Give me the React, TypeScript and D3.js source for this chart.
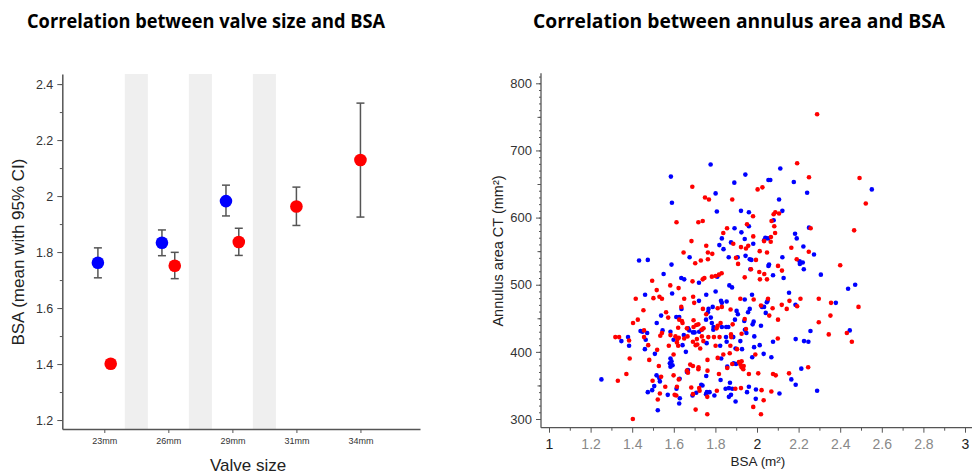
import React, { useEffect, useRef } from 'react';
import * as d3 from 'd3';

// left panel: BSA by valve size, mean with 95% CI
const valveSizes = ['23mm', '26mm', '29mm', '31mm', '34mm'];
const blueMean = [1.762, 1.833, 1.982, null, null];
const blueLow = [1.708, 1.787, 1.929, null, null];
const blueHigh = [1.815, 1.879, 2.039, null, null];
const redMean = [1.401, 1.751, 1.836, 1.963, 2.129];
const redLow = [null, 1.705, 1.788, 1.895, 1.925];
const redHigh = [null, 1.799, 1.885, 2.032, 2.332];
const bsaTicks = [1.2, 1.4, 1.6, 1.8, 2, 2.2, 2.4];

// right panel: annulus area vs BSA
const blueBSA = [1.777, 1.586, 2.112, 1.944, 2.055, 2.064, 2.177, 1.891, 2.552, 1.801, 2.241, 2.106, 1.591, 1.807, 1.923, 1.961, 2.122, 2.08, 1.892, 1.961, 2.25, 1.925, 2.183, 2.191, 1.831, 2.04, 2.053, 2.034, 1.941, 1.875, 1.819, 1.982, 2.223, 1.839, 2.122, 1.676, 1.864, 1.945, 1.907, 1.433, 1.475, 1.965, 1.973, 2.205, 2.22, 2.206, 1.589, 2.274, 2.055, 2.058, 1.968, 2.225, 1.551, 1.809, 2.307, 2.077, 2.128, 1.636, 1.65, 1.721, 1.867, 1.88, 2.438, 2.472, 1.801, 1.592, 1.462, 2.154, 1.756, 1.976, 1.941, 2.051, 1.721, 1.827, 1.831, 1.854, 2.047, 2.379, 2.024, 2.034, 2.185, 1.637, 1.767, 1.787, 1.902, 1.908, 1.965, 1.957, 2.042, 1.612, 1.539, 1.626, 1.764, 1.755, 1.778, 1.894, 1.939, 1.984, 1.979, 1.518, 1.783, 1.791, 2.019, 1.831, 1.852, 1.862, 1.44, 1.449, 1.546, 1.669, 1.674, 1.722, 1.734, 1.942, 1.79, 1.7, 1.692, 2.257, 2.446, 1.584, 1.38, 1.648, 1.851, 1.886, 1.949, 1.987, 2.186, 2.226, 2.247, 1.348, 1.472, 1.465, 1.92, 1.599, 2.077, 1.385, 1.642, 1.758, 1.823, 1.854, 2.013, 1.986, 1.897, 1.928, 1.461, 1.658, 1.509, 2.032, 1.828, 1.584, 2.069, 1.977, 1.589, 1.888, 1.899, 1.581, 1.594, 1.584, 1.857, 2.213, 1.668, 1.663, 1.517, 1.756, 1.53, 1.628, 1.825, 1.252, 2.165, 1.533, 1.87, 1.732, 1.506, 1.738, 1.961, 2.186, 1.849, 1.881, 1.865, 1.613, 2.289, 1.496, 1.475, 1.995, 1.759, 1.772, 1.708, 1.952, 2.108, 1.755, 1.571, 1.795, 1.865, 1.875, 1.69, 1.629, 1.994, 1.897, 1.626, 1.523];
const blueArea = [679, 661, 673, 664, 656, 656, 653, 652, 642, 636, 637, 627, 622, 609, 610, 608, 610, 596, 584, 587, 585, 578, 576, 569, 569, 570, 569, 566, 568, 563, 559, 561, 557, 553, 541, 541, 541, 543, 541, 536, 537, 538, 537, 535, 533, 531, 530, 545, 528, 530, 523, 523, 516, 512, 515, 514, 510, 510, 508, 503, 499, 496, 494, 500, 490, 487, 485, 488, 485, 485, 478, 476, 476, 476, 473, 475, 474, 473, 467, 467, 470, 464, 464, 467, 461, 456, 464, 459, 458, 452, 454, 452, 459, 448, 451, 448, 446, 445, 441, 443, 443, 437, 439, 437, 437, 437, 431, 430, 432, 435, 432, 430, 433, 433, 433, 429, 429, 431, 432, 430, 422, 425, 422, 422, 428, 423, 419, 416, 415, 416, 428, 418, 416, 418, 415, 409, 410, 413, 409, 415, 410, 407, 405, 404, 404, 400, 397, 397, 390, 390, 392, 392, 386, 383, 382, 383, 380, 378, 378, 375, 373, 370, 365, 364, 361, 360, 358, 359, 359, 356, 354, 351, 349, 350, 348, 351, 345, 345, 346, 345, 342, 343, 340, 344, 340, 340, 339, 340, 338, 337, 336, 335, 333, 336, 335, 331, 330, 326, 323, 313];
const redBSA = [2.289, 2.193, 2.25, 2.493, 1.689, 2.026, 2.003, 1.75, 1.769, 1.881, 2.523, 2.088, 2.106, 2.08, 1.981, 1.613, 1.718, 1.739, 2.07, 2.083, 1.856, 1.838, 1.952, 2.258, 2.467, 2.087, 1.685, 2.067, 2.066, 2.034, 1.982, 1.886, 1.923, 1.756, 2.165, 1.958, 1.947, 1.647, 1.764, 1.785, 2.249, 2.013, 2.048, 1.73, 1.764, 1.899, 1.995, 2.191, 1.703, 1.909, 2.101, 2.4, 1.971, 2.12, 2.011, 2.035, 1.83, 1.817, 1.801, 1.783, 1.941, 2.048, 2.014, 1.739, 1.747, 1.496, 1.69, 1.583, 1.623, 1.518, 1.531, 1.543, 1.502, 1.693, 1.65, 1.417, 1.984, 1.92, 2.053, 2.209, 2.297, 2.156, 1.698, 2.356, 2.119, 2.075, 2.019, 2.143, 2.193, 2.488, 1.636, 1.454, 1.74, 1.811, 1.831, 1.873, 2.059, 1.563, 1.573, 1.756, 2.353, 1.427, 1.626, 1.639, 1.941, 2.101, 1.695, 1.642, 1.404, 2.297, 1.825, 1.811, 1.708, 1.718, 1.883, 1.806, 1.743, 1.734, 1.695, 1.457, 1.621, 1.663, 1.947, 2.432, 2.345, 1.543, 1.535, 1.584, 1.319, 1.337, 1.457, 1.608, 1.618, 1.624, 1.65, 1.666, 1.711, 1.735, 1.766, 1.793, 1.82, 1.875, 1.876, 1.926, 2.1, 2.456, 1.385, 1.742, 1.692, 1.615, 1.621, 1.576, 1.477, 1.713, 1.705, 1.801, 1.872, 1.904, 1.52, 1.727, 1.869, 1.599, 1.838, 1.992, 1.388, 1.482, 1.811, 1.762, 1.913, 1.926, 1.881, 1.679, 1.692, 1.92, 1.936, 1.528, 1.719, 1.718, 1.857, 1.926, 1.934, 2.246, 1.762, 1.663, 1.668, 2.154, 1.372, 2.006, 1.817, 1.961, 2.077, 2.09, 1.539, 1.599, 1.624, 1.331, 1.498, 1.559, 1.923, 1.684, 1.615, 1.722, 1.896, 1.724, 2.022, 2.069, 1.807, 1.533, 1.604, 1.612, 1.692, 1.761, 1.523, 2.032, 1.982, 1.705, 1.761, 2.019, 1.403];
const redArea = [754, 681, 660, 659, 646, 645, 642, 630, 627, 627, 621, 608, 606, 605, 602, 593, 593, 595, 595, 587, 584, 577, 590, 584, 581, 577, 565, 571, 564, 565, 572, 561, 556, 558, 555, 558, 554, 548, 548, 546, 549, 550, 548, 536, 538, 540, 537, 538, 532, 531, 528, 529, 523, 521, 519, 516, 517, 515, 513, 512, 511, 508, 508, 508, 510, 506, 505, 499, 495, 492, 482, 479, 480, 482, 479, 479, 478, 479, 479, 479, 479, 476, 473, 473, 470, 465, 469, 464, 468, 467, 467, 462, 464, 465, 467, 463, 454, 459, 451, 456, 454, 448, 448, 446, 449, 448, 447, 443, 443, 444, 443, 439, 440, 441, 441, 435, 435, 433, 437, 432, 436, 435, 434, 428, 426, 428, 424, 425, 422, 422, 422, 423, 419, 421, 420, 423, 419, 423, 422, 422, 422, 426, 422, 427, 420, 415, 417, 416, 415, 414, 409, 409, 410, 411, 410, 409, 409, 404, 403, 405, 398, 396, 396, 396, 390, 388, 391, 388, 385, 386, 382, 381, 379, 381, 379, 379, 377, 374, 376, 377, 374, 377, 372, 372, 369, 368, 367, 368, 367, 367, 367, 365, 363, 365, 359, 357, 357, 348, 346, 347, 348, 346, 345, 342, 343, 341, 342, 338, 336, 335, 337, 333, 329, 328, 318, 314, 307, 307, 300];
const xTicks = [1, 1.2, 1.4, 1.6, 1.8, 2, 2.2, 2.4, 2.6, 2.8, 3];
const yTicks = [300, 400, 500, 600, 700, 800];

const BLUE = '#0000ff';
const RED = '#ff0000';
const AXIS = '#555';
const FONT = '"Liberation Sans", Arial, sans-serif';

const App: React.FC = () => {
    const ref = useRef<SVGSVGElement>(null);

    useEffect(() => {
        const svg = d3.select(ref.current);
        svg.selectAll('*').remove();

        // titles
        svg.append('text').attr('x', 206).attr('y', 28).attr('text-anchor', 'middle')
            .attr('font-family', '"Open Sans", sans-serif').attr('font-weight', 'bold').attr('font-size', 19)
            .attr('textLength', 358).attr('lengthAdjust', 'spacingAndGlyphs')
            .text('Correlation between valve size and BSA');
        svg.append('text').attr('x', 739).attr('y', 28).attr('text-anchor', 'middle')
            .attr('font-family', '"Open Sans", sans-serif').attr('font-weight', 'bold').attr('font-size', 19)
            .attr('textLength', 412).attr('lengthAdjust', 'spacingAndGlyphs')
            .text('Correlation between annulus area and BSA');

        // ---------- left panel ----------
        const xL = d3.scaleLinear().domain([-0.656, 4.93]).range([62.3, 420]);
        const yL = d3.scaleLinear().domain([1.168, 2.436]).range([429, 74]);
        const left = svg.append('g');

        // grey bands between sizes
        left.selectAll('rect.band').data([0, 1, 2]).enter().append('rect')
            .attr('x', d => xL(d + 0.5 - 0.18)).attr('width', xL(0.36) - xL(0))
            .attr('y', yL(2.436)).attr('height', yL(1.168) - yL(2.436))
            .attr('fill', '#efefef');

        const yAxisL = left.append('g').attr('transform', `translate(${xL(-0.656)},0)`)
            .call(d3.axisLeft(yL).tickValues(d3.range(1.2, 2.45, 0.1)).tickSize(2.5).tickFormat(() => ''));
        yAxisL.select('.domain').remove();
        const yAxisL2 = left.append('g').attr('transform', `translate(${xL(-0.656)},0)`)
            .call(d3.axisLeft(yL).tickValues(bsaTicks).tickSize(5).tickSizeOuter(0).tickPadding(4)
                .tickFormat(d => String(+(+d).toFixed(1))));
        yAxisL2.selectAll('text').attr('font-size', 12.5).attr('font-family', FONT).attr('fill', '#333');
        left.selectAll('.tick line').attr('stroke', AXIS);
        yAxisL2.select('.domain').attr('stroke', AXIS).attr('stroke-width', 1.5);

        const xAxisL = left.append('g').attr('transform', `translate(0,${yL(1.168)})`)
            .call(d3.axisBottom(xL).tickValues(d3.range(valveSizes.length)).tickSize(4).tickSizeOuter(0)
                .tickPadding(5).tickFormat((d) => valveSizes[+d]));
        xAxisL.selectAll('text').attr('font-size', 9).attr('font-family', FONT).attr('fill', '#333');
        xAxisL.selectAll('line').attr('stroke', AXIS);
        xAxisL.select('.domain').attr('stroke', AXIS).attr('stroke-width', 1.5);

        left.append('text').attr('transform', `translate(24,${yL(1.8)}) rotate(-90)`)
            .attr('text-anchor', 'middle').attr('font-family', FONT).attr('font-size', 17).attr('fill', '#222')
            .text('BSA (mean with 95% CI)');
        left.append('text').attr('x', 248).attr('y', 471).attr('text-anchor', 'middle')
            .attr('font-family', FONT).attr('font-size', 17).attr('fill', '#222').text('Valve size');

        const series = [
            { color: BLUE, mean: blueMean, low: blueLow, high: blueHigh, side: -1 },
            { color: RED, mean: redMean, low: redLow, high: redHigh, side: 1 },
        ];
        series.forEach(s => {
            s.mean.forEach((m, i) => {
                if (m == null) return;
                const both = blueMean[i] != null && redMean[i] != null;
                const cx = xL(i + (both ? s.side * 0.1 : 0));
                const lo = s.low[i];
                const hi = s.high[i];
                if (lo != null && hi != null) {
                    const g = left.append('g').attr('stroke', '#555').attr('stroke-width', 1.5);
                    g.append('line').attr('x1', cx).attr('x2', cx).attr('y1', yL(lo)).attr('y2', yL(hi));
                    g.append('line').attr('x1', cx - 4).attr('x2', cx + 4).attr('y1', yL(lo)).attr('y2', yL(lo));
                    g.append('line').attr('x1', cx - 4).attr('x2', cx + 4).attr('y1', yL(hi)).attr('y2', yL(hi));
                }
                left.append('circle').attr('cx', cx).attr('cy', yL(m)).attr('r', 6.3).attr('fill', s.color);
            });
        });

        // ---------- right panel ----------
        const xR = d3.scaleLinear().domain([1, 3]).range([549, 965]);
        const yR = d3.scaleLinear().domain([300, 800]).range([419, 83.3]);
        const right = svg.append('g');
        const x0 = xR.invert(541);
        const y0 = yR.invert(427.7);

        const yMinor = right.append('g').attr('transform', `translate(541,0)`)
            .call(d3.axisLeft(yR).tickValues(d3.range(300, 811, 10)).tickSize(2).tickFormat(() => ''));
        yMinor.select('.domain').remove();
        const yMid = right.append('g').attr('transform', `translate(541,0)`)
            .call(d3.axisLeft(yR).tickValues(d3.range(350, 800, 100)).tickSize(3.5).tickFormat(() => ''));
        yMid.select('.domain').remove();
        const yAxisR = right.append('g').attr('transform', `translate(541,0)`)
            .call(d3.axisLeft(yR).tickValues(yTicks).tickSize(5).tickSizeOuter(0).tickPadding(4));
        yAxisR.select('.domain').remove();
        yAxisR.selectAll('text').attr('font-size', 13).attr('font-family', FONT).attr('fill', '#333');

        const xMinor = right.append('g').attr('transform', `translate(0,427.7)`)
            .call(d3.axisBottom(xR).tickValues(d3.range(1.1, 3, 0.2)).tickSize(3).tickFormat(() => ''));
        xMinor.select('.domain').remove();
        const xAxisR = right.append('g').attr('transform', `translate(0,427.7)`)
            .call(d3.axisBottom(xR).tickValues(xTicks).tickSize(5).tickSizeOuter(0).tickPadding(6)
                .tickFormat(d => String(+(+d).toFixed(1))));
        xAxisR.select('.domain').remove();
        xAxisR.selectAll('text').attr('font-size', 14).attr('font-family', FONT)
            .attr('fill', (d: any) => (Number.isInteger(+(+d).toFixed(1)) ? '#222' : '#888'));
        right.selectAll('.tick line').attr('stroke', AXIS);

        right.append('line').attr('x1', 541).attr('x2', 541).attr('y1', yR(815)).attr('y2', yR(y0))
            .attr('stroke', AXIS).attr('stroke-width', 1.3);
        right.append('line').attr('x1', xR(x0)).attr('x2', 972).attr('y1', 427.7).attr('y2', 427.7)
            .attr('stroke', AXIS).attr('stroke-width', 1.3);

        right.append('text').attr('transform', `translate(503,251) rotate(-90)`)
            .attr('text-anchor', 'middle').attr('font-family', FONT).attr('font-size', 14.5).attr('fill', '#222')
            .text('Annulus area CT (mm²)');
        right.append('text').attr('x', 758).attr('y', 466).attr('text-anchor', 'middle')
            .attr('font-family', FONT).attr('font-size', 13.5).attr('fill', '#222').text('BSA (m²)');

        const bluePts = blueBSA.map((b, i) => [b, blueArea[i]]);
        const redPts = redBSA.map((b, i) => [b, redArea[i]]);
        right.append('g').selectAll('circle').data(bluePts).enter().append('circle')
            .attr('cx', d => xR(d[0])).attr('cy', d => yR(d[1])).attr('r', 2.3).attr('fill', BLUE);
        right.append('g').selectAll('circle').data(redPts).enter().append('circle')
            .attr('cx', d => xR(d[0])).attr('cy', d => yR(d[1])).attr('r', 2.3).attr('fill', RED);
    }, []);

    return (
        <svg ref={ref} width={972} height={476}
            style={{ position: 'absolute', left: 0, top: 0, background: '#fff' }} />
    );
};

export default App;
